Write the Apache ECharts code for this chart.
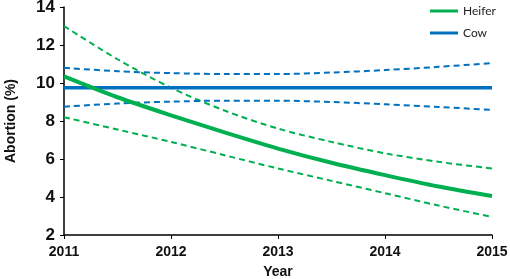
<!DOCTYPE html>
<html>
<head>
<meta charset="utf-8">
<script src="https://cdn.jsdelivr.net/npm/echarts@6/dist/echarts.min.js"></script>
<style>
  html, body { margin: 0; padding: 0; background: #fff; }
  #chart { width: 510px; height: 279px; }
</style>
</head>
<body>
<div id="chart"></div>
<script>
// years (half-year steps)
const years = [2011, 2011.5, 2012, 2012.5, 2013, 2013.5, 2014, 2014.5, 2015];
const heifer = [10.35, 9.25, 8.3, 7.4, 6.55, 5.8, 5.15, 4.55, 4.05];
const heiferUpper = [13.0, 11.25, 9.75, 8.55, 7.6, 6.9, 6.3, 5.85, 5.5];
const heiferLower = [8.2, 7.55, 6.9, 6.2, 5.5, 4.85, 4.2, 3.55, 2.95];
const cow = [9.75, 9.75, 9.75, 9.75, 9.75, 9.75, 9.75, 9.75, 9.75];
const cowUpper = [10.8, 10.62, 10.52, 10.47, 10.47, 10.55, 10.68, 10.85, 11.05];
const cowLower = [8.75, 8.92, 9.02, 9.07, 9.07, 9.0, 8.88, 8.74, 8.58];
const yTicks = [2, 4, 6, 8, 10, 12, 14];

const GREEN = "#00B050";
const BLUE = "#0070C0";
const FONT = "Liberation Sans";

const pairs = (ys) => years.map((x, i) => [x, ys[i]]);

const chart = echarts.init(document.getElementById("chart"));

function line(name, data, color, width, dashed) {
  return {
    name,
    type: "line",
    data: pairs(data),
    smooth: 0.3,
    symbol: "none",
    silent: true,
    color,
    lineStyle: {
      color,
      width,
      type: dashed ? [6, 4] : "solid",
    },
  };
}

chart.setOption({
  animation: false,
  grid: { left: 64, right: 18, top: 7, bottom: 44, outerBoundsMode: "none", containLabel: false },
  legend: {
    data: ["Heifer", "Cow"],
    orient: "vertical",
    left: 425,
    top: 0,
    icon: "rect",
    itemWidth: 28,
    itemHeight: 3,
    itemGap: 10,
    textStyle: { fontFamily: "Lato", fontSize: 12, color: "#222" },
  },
  xAxis: {
    type: "value",
    min: 2011,
    max: 2015,
    interval: 1,
    name: "Year",
    nameLocation: "middle",
    nameGap: 30,
    nameTextStyle: { fontFamily: FONT, fontSize: 14, fontWeight: "bold", color: "#111" },
    axisLine: { show: true, lineStyle: { color: "#000", width: 1.5 } },
    axisTick: { show: true, length: 4, lineStyle: { color: "#000" } },
    axisLabel: {
      formatter: (v) => String(v),
      fontFamily: FONT,
      fontSize: 14,
      fontWeight: "bold",
      color: "#111",
      margin: 10,
    },
    splitLine: { show: false },
  },
  yAxis: {
    type: "value",
    min: yTicks[0],
    max: yTicks[yTicks.length - 1],
    interval: 2,
    name: "Abortion (%)",
    nameLocation: "middle",
    nameGap: 46,
    nameTextStyle: { fontFamily: FONT, fontSize: 14, fontWeight: "bold", color: "#111" },
    axisLine: { show: true, lineStyle: { color: "#000", width: 1.5 } },
    axisTick: { show: true, length: 4, lineStyle: { color: "#000" } },
    axisLabel: {
      fontFamily: FONT,
      fontSize: 17,
      fontWeight: "bold",
      color: "#111",
      margin: 9,
    },
    splitLine: { show: false },
  },
  series: [
    line("Heifer upper", heiferUpper, GREEN, 2, true),
    line("Heifer lower", heiferLower, GREEN, 2, true),
    line("Cow upper", cowUpper, BLUE, 2, true),
    line("Cow lower", cowLower, BLUE, 2, true),
    line("Cow", cow, BLUE, 3.5, false),
    line("Heifer", heifer, GREEN, 4, false),
  ],
});
</script>
</body>
</html>
